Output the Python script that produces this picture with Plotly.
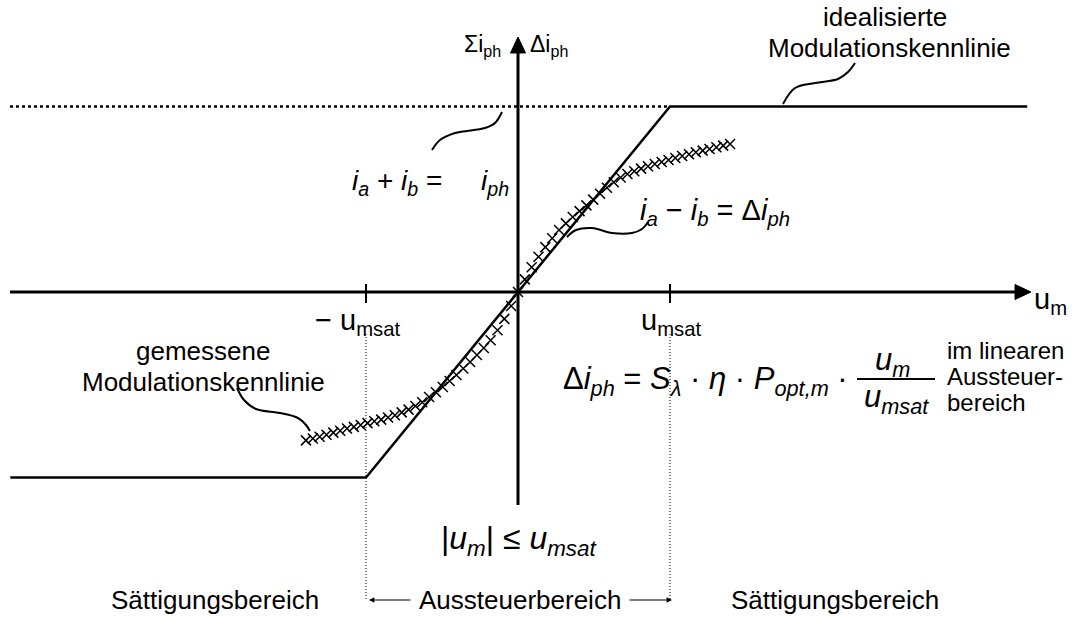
import plotly.graph_objects as go

# Figure size and the mapping between data units and screen pixels
W, H = 1085, 617
X0_PX, Y0_PX = 518, 292        # origin of the u_m / i axes
SX, SY = 152.0, 185.5          # pixels per unit (u_msat = 1, i_ph = 1)

# Idealised characteristic: saturation at +/- u_msat
ideal_u = [-3.34, -1.0, 1.0, 3.35]
ideal_i = [-1.0, -1.0, 1.0, 1.0]

# Measured characteristic (normalised u_m / u_msat, delta i / i_ph)
meas_u = [-1.395, -1.35, -1.305, -1.26, -1.215, -1.17, -1.125, -1.08, -1.035, -0.99,
          -0.945, -0.9, -0.855, -0.81, -0.765, -0.72, -0.675, -0.63, -0.585, -0.54,
          -0.495, -0.45, -0.405, -0.36, -0.315, -0.27, -0.225, -0.18, -0.135, -0.09,
          -0.045, 0.0, 0.045, 0.09, 0.135, 0.18, 0.225, 0.27, 0.315, 0.36,
          0.405, 0.45, 0.495, 0.54, 0.585, 0.63, 0.675, 0.72, 0.765, 0.81,
          0.855, 0.9, 0.945, 0.99, 1.035, 1.08, 1.125, 1.17, 1.215, 1.26,
          1.305, 1.35, 1.395]
meas_i = [-0.800, -0.790, -0.780, -0.770, -0.758, -0.748, -0.736, -0.727, -0.717, -0.707,
          -0.697, -0.688, -0.677, -0.664, -0.649, -0.634, -0.615, -0.594, -0.566, -0.540,
          -0.512, -0.480, -0.447, -0.412, -0.377, -0.340, -0.302, -0.260, -0.206, -0.145,
          -0.075, 0.000, 0.068, 0.133, 0.190, 0.242, 0.290, 0.334, 0.370, 0.404,
          0.436, 0.467, 0.498, 0.530, 0.562, 0.592, 0.617, 0.636, 0.651, 0.665,
          0.678, 0.690, 0.701, 0.712, 0.722, 0.733, 0.743, 0.753, 0.762, 0.771,
          0.780, 0.789, 0.798]

# Saturation level of the sum current i_a + i_b
sum_level = 1.0
u_sat = [-1.0, 1.0]

FONT = "Liberation Sans, Arial, sans-serif"
INK = "black"


def du(px):
    return (px - X0_PX) / SX


def di(py):
    return (Y0_PX - py) / SY


x_rng = [du(0), du(W)]
y_rng = [di(H), di(0)]

fig = go.Figure()


def line(us, is_, width=2.5, dash="solid", shape="linear"):
    fig.add_trace(go.Scatter(x=us, y=is_, mode="lines", hoverinfo="skip",
                             line=dict(color=INK, width=width, dash=dash, shape=shape)))


# dotted level of the summed photocurrent
line([du(10), u_sat[1]], [sum_level, sum_level], width=2.5, dash="3px,3px")

# dotted boundaries of the linear range
for u in u_sat:
    line([u, u], [di(334), di(600)], width=1, dash="1px,2px")

# axes
line([du(10), du(1016)], [0, 0], width=3)
line([0, 0], [di(505), di(52)], width=3)

# ticks at +/- u_msat
for u in u_sat:
    line([u, u], [di(284), di(303)], width=2)

# arrow heads of the axes
tip_x, tip_y = du(1031), di(37)
fig.add_shape(type="path", xref="x", yref="y", fillcolor=INK, line=dict(color=INK, width=1),
              path=f"M {tip_x},0 L {tip_x - 16 / SX},{7.5 / SY} L {tip_x - 16 / SX},{-7.5 / SY} Z")
fig.add_shape(type="path", xref="x", yref="y", fillcolor=INK, line=dict(color=INK, width=1),
              path=f"M 0,{tip_y} L {-7.5 / SX},{tip_y - 16 / SY} L {7.5 / SX},{tip_y - 16 / SY} Z")

# idealised characteristic
fig.add_trace(go.Scatter(x=ideal_u, y=ideal_i, mode="lines", hoverinfo="skip",
                         line=dict(color=INK, width=2.5)))

# measured characteristic
fig.add_trace(go.Scatter(x=meas_u, y=meas_i, mode="markers", hoverinfo="skip",
                         marker=dict(symbol="x-thin", size=10, color=INK,
                                     line=dict(color=INK, width=1.5))))

# curved leader lines from the labels to the curves (screen pixel guides)
leaders = [
    [(783, 104), (795, 88), (815, 83), (838, 79), (848, 72), (855, 63)],
    [(432, 150), (440, 140), (455, 133), (485, 128), (495, 123), (502, 112)],
    [(567, 237), (576, 230), (592, 228), (612, 233), (632, 233), (642, 229), (648, 222)],
    [(237, 388), (244, 400), (256, 409), (280, 413), (298, 418), (306, 425), (310, 431)],
]
for pts in leaders:
    line([du(p[0]) for p in pts], [di(p[1]) for p in pts], width=2, shape="spline")

# fraction bar of u_m / u_msat
line([du(857), du(935)], [di(379), di(379)], width=2)


def text(px, py, s, size=26, xa="center", ya="middle"):
    fig.add_annotation(x=px / W, y=1 - py / H, xref="paper", yref="paper", text=s,
                       showarrow=False, xanchor=xa, yanchor=ya,
                       font=dict(family=FONT, size=size, color=INK))


text(885, 17, "idealisierte")
text(889, 48, "Modulationskennlinie")
text(503, 46, "Σi<sub>ph</sub>", size=23, xa="right")
text(528, 46, "Δi<sub>ph</sub>", size=23, xa="left")
text(444, 182, "<i>i</i><sub><i>a</i></sub> + <i>i</i><sub><i>b</i></sub> =", size=28, xa="right")
text(479, 182, "<i>i</i><sub><i>ph</i></sub>", size=28, xa="left")
text(638, 212, "<i>i</i><sub><i>a</i></sub> − <i>i</i><sub><i>b</i></sub> = Δ<i>i</i><sub><i>ph</i></sub>",
     size=29, xa="left")
text(357, 322, "− u<sub>msat</sub>", size=29)
text(671, 322, "u<sub>msat</sub>", size=29)
text(1032, 301, "u<sub>m</sub>", size=29, xa="left")
text(203, 351, "gemessene")
text(203, 382, "Modulationskennlinie")
text(561, 381, "Δ<i>i</i><sub><i>ph</i></sub> = <i>S</i><sub><i>λ</i></sub> · <i>η</i> · "
               "<i>P</i><sub><i>opt,m</i></sub> ·", size=31, xa="left")
text(892, 362, "<i>u</i><sub><i>m</i></sub>", size=31)
text(896, 399, "<i>u</i><sub><i>msat</i></sub>", size=31)
text(945, 350, "im linearen", size=24, xa="left")
text(945, 376, "Aussteuer-", size=24, xa="left")
text(945, 402, "bereich", size=24, xa="left")
text(519, 540, "|<i>u</i><sub><i>m</i></sub>| ≤ <i>u</i><sub><i>msat</i></sub>", size=32)
text(215, 600, "Sättigungsbereich")
text(835, 600, "Sättigungsbereich")
text(520, 600, "Aussteuerbereich")

# arrows marking the extent of the linear range
for head, tail in [(369, 412), (672, 628)]:
    fig.add_annotation(x=du(head), y=di(600), ax=du(tail), ay=di(600), xref="x", yref="y",
                       axref="x", ayref="y", text="", showarrow=True, arrowhead=2,
                       arrowsize=0.9, arrowwidth=1.2, arrowcolor=INK)

fig.update_layout(width=W, height=H, margin=dict(l=0, r=0, t=0, b=0),
                  paper_bgcolor="white", plot_bgcolor="white", showlegend=False,
                  xaxis=dict(range=x_rng, visible=False, fixedrange=True),
                  yaxis=dict(range=y_rng, visible=False, fixedrange=True))

fig.write_html("out.html")
